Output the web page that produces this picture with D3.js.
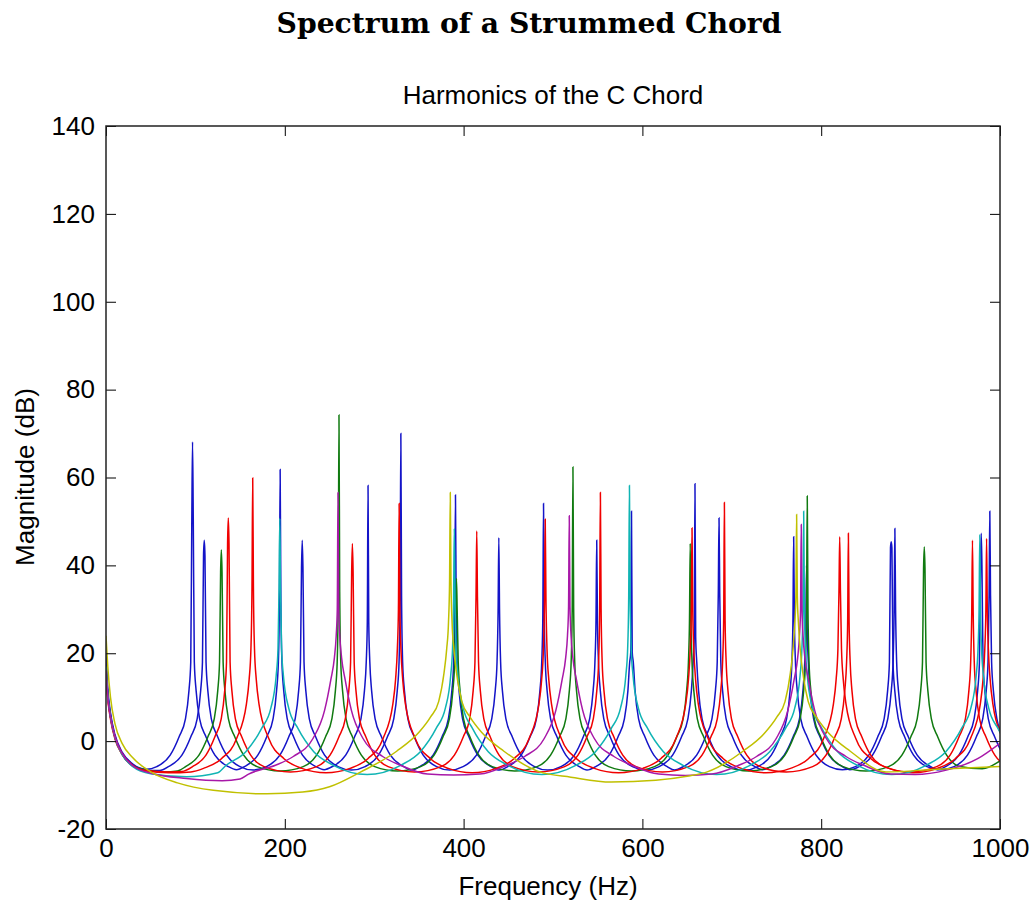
<!DOCTYPE html>
<html>
<head>
<meta charset="utf-8">
<script src="https://cdn.jsdelivr.net/npm/d3@7/dist/d3.min.js"></script>
<style>
  body { margin: 0; background: #fff; }
  svg { display: block; }
</style>
</head>
<body>
<svg id="chart" width="1034" height="907"></svg>
<script>
//axis ticks
const xTicks = [0, 200, 400, 600, 800, 1000]
const yTicks = [-20, 0, 20, 40, 60, 80, 100, 120, 140]

//skirt levels around a peak, [offset Hz, dB]
const narrowSkirt = [[2, 18], [4, 11.5], [8, 5], [15, 1], [25, -3.2], [40, -5.8]]
const redSkirt = [[2, 21], [4, 14], [7, 8.5], [18, 0.6], [35, -4], [55, -6.2]]
const cyanSkirt = [[2, 21], [4, 15], [10, 7.5], [20, 3], [38, -2.4], [60, -5.5]]
const magentaSkirt = [[2, 24], [4, 19], [8, 14], [15, 7], [28, 0.6], [50, -3.5], [70, -5.5], [100, -7.5]]
const yellowSkirt = [[2, 27], [4, 21], [7, 15.5], [13, 9], [22, 5.5], [35, 2], [60, -2.3], [100, -7]]

//peaks: [frequency Hz, peak dB, dB of the neighbouring bins]
const g2Peaks = [[96.8, 68.1, 51], [194.8, 61.8, 31.7], [293.1, 58.2, 27.2], [390.9, 56, 30], [489.4, 54.1, 28],
  [587.8, 52.3, 20.3], [685.7, 50.8, 33.6], [783.6, 40, 25], [882.4, 48.4, 30], [979, 47.3, 40]]
const g2Floor = [[0, 20], [2, 12], [5, 6.5], [10, 1.5], [18, -2.5], [30, -5.2], [45, -6.4], [146, -6.5], [244, -6.5],
  [342, -6.6], [440, -6.6], [538, -6.6], [636, -6.6], [734, -6.5], [832, -6.5], [930, -6.5]]

const a2Peaks = [[109.9, 45.7, 42.3], [219.5, 45.7, 39.5], [329.8, 70, 33.2], [439.4, 46.3, 29.8], [548.9, 45.7, 27.5],
  [658.8, 58.6, 23.7], [769.2, 46.5, 27.9], [878.3, 45.4, 44], [988.6, 52.3, 33.2]]
const a2Floor = [[0, 18], [2, 11], [5, 6], [10, 1], [18, -2.8], [30, -5.4], [45, -6.5], [60, -6.7], [164.7, -6.6],
  [274.6, -6.6], [384.6, -6.6], [494.1, -6.6], [603.8, -6.6], [714, -6.6], [823.7, -6.5], [933.4, -6.5]]

const c3Peaks = [[129, 43.5, 38.5], [260.6, 74.2, 34], [392, 37, 30], [522.3, 62.4, 30.3], [653.5, 45, 28],
  [784.4, 55.8, 30], [915.3, 44.2, 39.3]]
const c3Floor = [[0, 17], [2, 10.5], [5, 5.5], [10, 0.8], [18, -3], [30, -5.6], [45, -6.6], [65, -7], [80, -6.8],
  [194.8, -6.8], [326.3, -6.8], [457.2, -6.8], [587.9, -6.8], [719, -6.8], [849.9, -6.8], [980, -6.3], [1000, -4.5]]

const cs3Peaks = [[136.8, 50.8, 45], [275.6, 45, 38.5], [414.7, 47.8, 32.8], [553, 56.6, 30.2], [691.7, 54.3, 27.5],
  [830.4, 47.3, 27.2], [969.2, 45.7, 29.4]]
const cs3Floor = [[0, 15], [2, 9.5], [5, 5], [10, 0.5], [18, -3], [30, -5.7], [45, -6.7], [70, -7], [85, -6.9],
  [206.2, -7], [345.2, -7], [483.9, -7], [622.4, -7], [761, -7], [899.8, -7]]

const e3Peaks = [[164.1, 59.9, 35.1], [327.9, 54.1, 30], [491.3, 50.5, 32.6], [655.5, 48.5, 30], [820.7, 46.5, 34.4],
  [985, 46.1, 30]]
const e3Floor = [[0, 16], [2, 10], [5, 5.5], [10, 1], [18, -2.8], [30, -5.5], [45, -6.8], [70, -7.2], [95, -7],
  [246, -7.2], [409.6, -7.2], [573.4, -7.2], [738.1, -7.2], [902.9, -7.2]]

const g3Peaks = [[194.4, 50.7, 35], [389.6, 48.4, 32], [585.5, 58.2, 33.2], [780.4, 52.3, 30], [977.4, 47, 30]]
const g3Floor = [[0, 17], [2, 10.5], [5, 5.5], [10, 0.8], [18, -3], [30, -5.8], [50, -7.4], [90, -8.1], [125, -7.2],
  [292, -7.6], [487.5, -7.6], [683, -7.6], [879, -7.6]]

const c4Peaks = [[259.5, 56.6, 30], [518.2, 51.3, 30.6], [777.7, 49.3, 30]]
const c4Floor = [[0, 16], [2, 10], [5, 5.5], [10, 1], [18, -2.8], [30, -5.6], [50, -7.3], [90, -8.5], [130, -9],
  [150, -8.6], [388.8, -7.7], [648, -7.8], [905, -7.6], [940, -6.6], [975, -4], [1000, -0.5]]

const g4Peaks = [[385.1, 56.6, 36.3], [772.5, 51.6, 33]]
const g4Floor = [[0, 24], [2, 17], [5, 10], [10, 4], [18, -0.5], [30, -3.8], [50, -7], [80, -9.5], [120, -11.2],
  [180, -12], [220, -11.6], [250, -10.4], [520, -8.2], [565, -9.3], [615, -8.9], [650, -8], [930, -6.4], [1000, -5.8]]

const series = [
  { peaks: g2Peaks, floor: g2Floor, skirt: narrowSkirt, color: "#1414c8" },
  { peaks: a2Peaks, floor: a2Floor, skirt: narrowSkirt, color: "#1414c8" },
  { peaks: c3Peaks, floor: c3Floor, skirt: narrowSkirt, color: "#107a10" },
  { peaks: cs3Peaks, floor: cs3Floor, skirt: narrowSkirt, color: "#f00000" },
  { peaks: e3Peaks, floor: e3Floor, skirt: redSkirt, color: "#f00000" },
  { peaks: g3Peaks, floor: g3Floor, skirt: cyanSkirt, color: "#10b4b4" },
  { peaks: c4Peaks, floor: c4Floor, skirt: magentaSkirt, color: "#a818a8" },
  { peaks: g4Peaks, floor: g4Floor, skirt: yellowSkirt, color: "#c0c000" }
]

//put the read peak / skirt / floor levels together into one sorted point list
const seriesPoints = (s) => {
  let pts = [], windows = []
  s.peaks.forEach((p, i) => {
    const prev = i > 0 ? s.peaks[i - 1][0] : 0
      , next = i < s.peaks.length - 1 ? s.peaks[i + 1][0] : Infinity
      , leftMax = (p[0] - prev) / 2 - 5
      , rightMax = (next - p[0]) / 2 - 5
    let lo = p[0], hi = p[0]
    pts.push([p[0] - 0.8, p[2]], [p[0], p[1]], [p[0] + 0.8, p[2]])
    s.skirt.forEach(([o, v]) => {
      if (o < leftMax) { pts.push([p[0] - o, v]); lo = p[0] - o }
      if (o < rightMax) { pts.push([p[0] + o, v]); hi = p[0] + o }
    })
    windows.push([lo, hi])
  })
  s.floor.forEach(q => {
    if (!windows.some(w => q[0] >= w[0] && q[0] <= w[1])) pts.push(q)
  })
  return pts.sort((a, b) => a[0] - b[0])
}

const svg = d3.select("#chart")
const margin = { left: 106, right: 1000, top: 126, bottom: 829 }

const x = d3.scaleLinear().domain([0, 1000]).range([margin.left, margin.right])
const y = d3.scaleLinear().domain([-20, 140]).range([margin.bottom, margin.top])

svg.append("defs").append("clipPath").attr("id", "plot")
  .append("rect").attr("x", margin.left).attr("y", margin.top)
  .attr("width", margin.right - margin.left).attr("height", margin.bottom - margin.top)

//main title
const title = svg.append("text")
  .attr("x", 529).attr("y", 33).attr("text-anchor", "middle")
  .style("font-family", "'DejaVu Serif', serif").style("font-weight", "bold").style("font-size", "25px")
  .text("Spectrum of a Strummed Chord")
const tw = title.node().getComputedTextLength()
title.style("font-size", (25 * 505 / tw).toFixed(2) + "px")

const font = "'Liberation Sans', Arial, sans-serif"

//lines
const line = d3.line().x(d => x(d[0])).y(d => y(d[1])).curve(d3.curveMonotoneX)
svg.append("g").attr("clip-path", "url(#plot)")
  .selectAll("path").data(series).enter().append("path")
  .attr("d", d => line(seriesPoints(d)))
  .attr("fill", "none").attr("stroke", d => d.color).attr("stroke-width", 1.5)

//axes, ticks inside like matlab
const plain = d => String(d)
const styleAxis = (g) => {
  g.select(".domain").remove()
  g.selectAll("line").attr("stroke", "#000")
  g.selectAll("text").style("font-family", font).style("font-size", "26px").attr("fill", "#000")
}
svg.append("g").attr("transform", `translate(0,${margin.bottom})`)
  .call(d3.axisBottom(x).tickValues(xTicks).tickFormat(plain).tickSizeInner(-10).tickSizeOuter(0).tickPadding(10))
  .call(styleAxis)
svg.append("g").attr("transform", `translate(0,${margin.top})`)
  .call(d3.axisTop(x).tickValues(xTicks).tickSizeInner(-10).tickSizeOuter(0).tickFormat(""))
  .call(styleAxis)
svg.append("g").attr("transform", `translate(${margin.left},0)`)
  .call(d3.axisLeft(y).tickValues(yTicks).tickFormat(plain).tickSizeInner(-10).tickSizeOuter(0).tickPadding(11))
  .call(styleAxis)
svg.append("g").attr("transform", `translate(${margin.right},0)`)
  .call(d3.axisRight(y).tickValues(yTicks).tickSizeInner(-10).tickSizeOuter(0).tickFormat(""))
  .call(styleAxis)

svg.append("rect")
  .attr("x", margin.left).attr("y", margin.top)
  .attr("width", margin.right - margin.left).attr("height", margin.bottom - margin.top)
  .attr("fill", "none").attr("stroke", "#222").attr("stroke-width", 1.5)

//labels
svg.append("text").attr("x", 553).attr("y", 104).attr("text-anchor", "middle")
  .style("font-family", font).style("font-size", "26px").text("Harmonics of the C Chord")
svg.append("text").attr("x", 548).attr("y", 895).attr("text-anchor", "middle")
  .style("font-family", font).style("font-size", "26px").text("Frequency (Hz)")
svg.append("text").attr("transform", "translate(34,477) rotate(-90)").attr("text-anchor", "middle")
  .style("font-family", font).style("font-size", "26px").text("Magnitude (dB)")
</script>
</body>
</html>
